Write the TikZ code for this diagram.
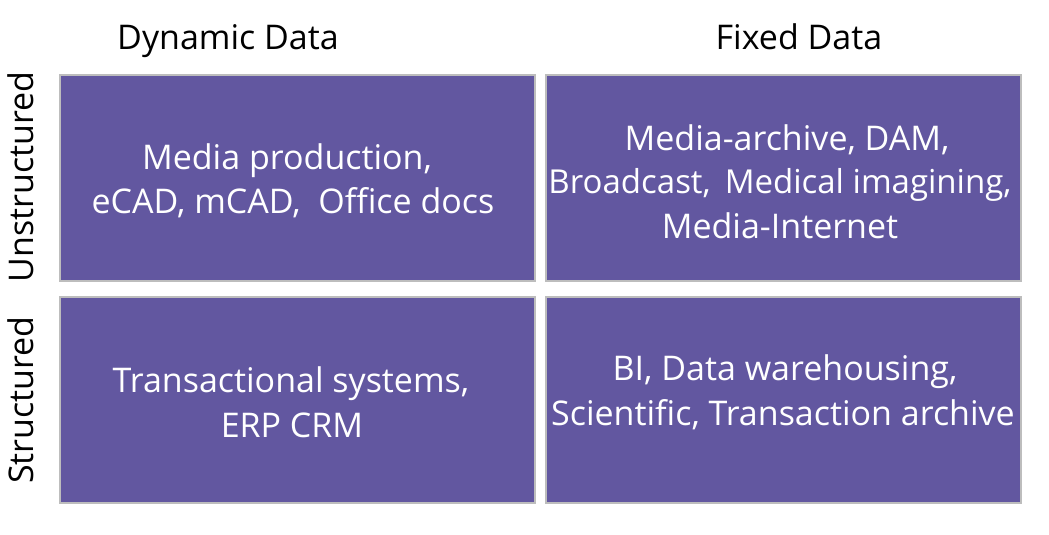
\documentclass[tikz,border=0pt]{standalone}
\usepackage{fontspec}
\setmainfont{Open Sans}
\definecolor{boxfill}{HTML}{6257A0}
\definecolor{boxline}{HTML}{BDBDBD}
\begin{document}
\begin{tikzpicture}[x=1pt,y=-1pt,
  cell/.style={draw=boxline,line width=2pt,fill=boxfill},
  txt/.style={anchor=base,inner sep=0pt,font=\fontsize{34}{41}\selectfont},
  wtxt/.style={txt,text=white}]
\useasboundingbox (0,0) rectangle (1049,535);
\fill[white] (0,0) rectangle (1049,535);
\draw[cell] (60,75) rectangle (535,280.5);
\draw[cell] (546,75) rectangle (1021,280.5);
\draw[cell] (60,297) rectangle (535,502.5);
\draw[cell] (546,297) rectangle (1021,502.5);
\node[txt] (hd) at (228,50) {Dynamic Data};
\node[txt] (hf) at (799,50) {Fixed Data};
\node[txt,rotate=90] (vu) at (33,177) {Unstructured};
\node[txt,rotate=90] (vs) at (33,400) {Structured};
\node[wtxt] (a1) at (287,169) {Media production,};
\node[wtxt] (a2) at (293,213) {eCAD, mCAD,\ \ Office docs};
\node[wtxt] (b1) at (787,150) {Media-archive, DAM,};
\node[wtxt,font=\fontsize{33}{40}\selectfont] (b2) at (780,193) {Broadcast,\ \,Medical imagining,};
\node[wtxt] (b3) at (780,238) {Media-Internet};
\node[wtxt] (c1) at (291,392) {Transactional systems,};
\node[wtxt] (c2) at (292,437) {ERP CRM};
\node[wtxt] (d1) at (785,380) {BI, Data warehousing,};
\node[wtxt] (d2) at (783,425) {Scientific, Transaction archive};
\end{tikzpicture}
\end{document}
